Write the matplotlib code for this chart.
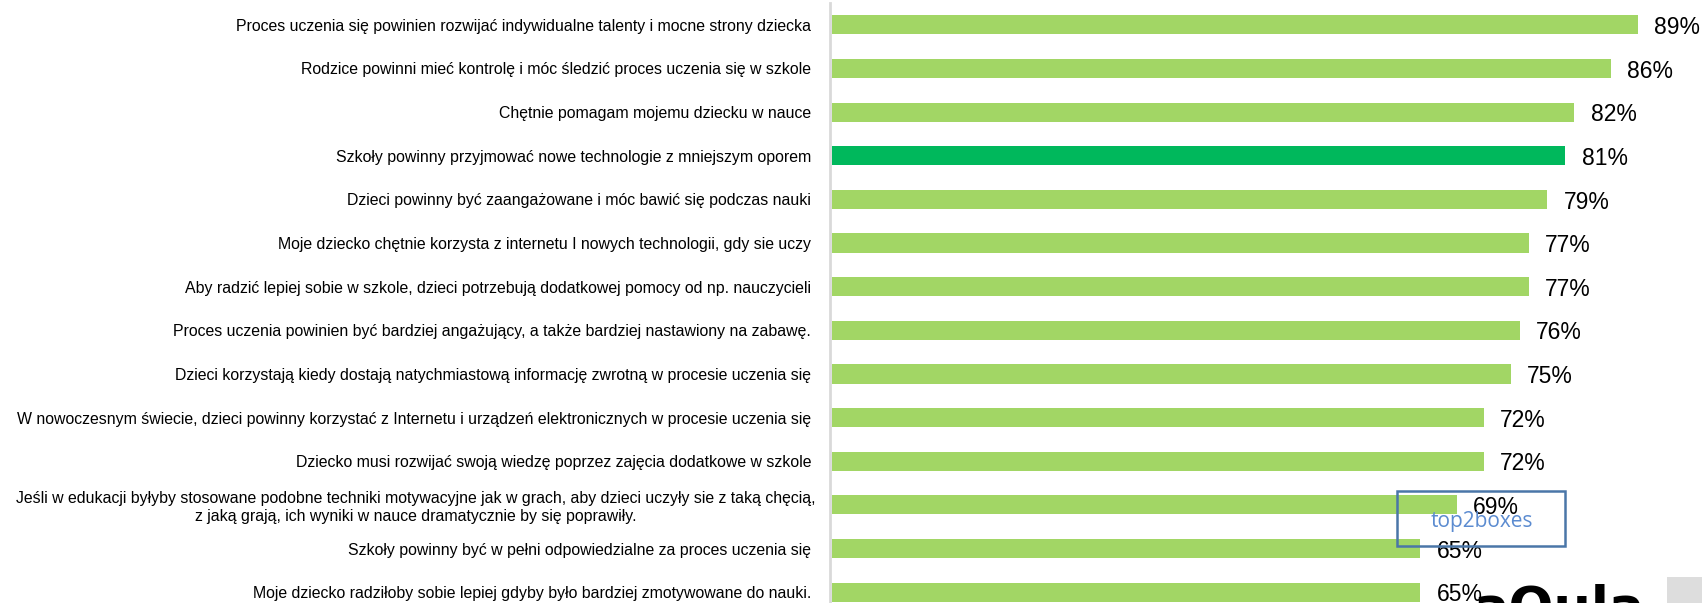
import matplotlib
matplotlib.use("Agg")
import matplotlib.pyplot as plt
from matplotlib.patches import Rectangle

labels = [
    "Proces uczenia się powinien rozwijać indywidualne talenty i mocne strony dziecka ",
    "Rodzice powinni mieć kontrolę i móc śledzić proces uczenia się w szkole ",
    "Chętnie pomagam mojemu dziecku w nauce ",
    "Szkoły powinny przyjmować nowe technologie z mniejszym oporem ",
    "Dzieci powinny być zaangażowane i móc bawić się podczas nauki ",
    "Moje dziecko chętnie korzysta z internetu I nowych technologii, gdy sie uczy ",
    "Aby radzić lepiej sobie w szkole, dzieci potrzebują dodatkowej pomocy od np. nauczycieli ",
    "Proces uczenia powinien być bardziej angażujący, a także bardziej nastawiony na zabawę. ",
    "Dzieci korzystają kiedy dostają natychmiastową informację zwrotną w procesie uczenia się ",
    "W nowoczesnym świecie, dzieci powinny korzystać z Internetu i urządzeń elektronicznych w procesie uczenia się ",
    "Dziecko musi rozwijać swoją wiedzę poprzez zajęcia dodatkowe w szkole ",
    "Jeśli w edukacji byłyby stosowane podobne techniki motywacyjne jak w grach, aby dzieci uczyły sie z taką chęcią,\nz jaką grają, ich wyniki w nauce dramatycznie by się poprawiły.",
    "Szkoły powinny być w pełni odpowiedzialne za proces uczenia się ",
    "Moje dziecko radziłoby sobie lepiej gdyby było bardziej zmotywowane do nauki. ",
]
values = [89, 86, 82, 81, 79, 77, 77, 76, 75, 72, 72, 69, 65, 65]
highlight = 3

light_green = "#A2D665"
dark_green = "#00B85C"

W, H = 1702, 603
fig = plt.figure(figsize=(W / 100, H / 100), dpi=100)
plt.rcParams["font.family"] = ["Liberation Sans", "DejaVu Sans"]

# axes placed in pixel terms: left edge at the gray axis line, bottom runs past the figure
ax_left, ax_top, ax_bottom = 830, 3, 614
ax = fig.add_axes([ax_left / W, 1 - ax_bottom / H, (W - ax_left) / W, (ax_bottom - ax_top) / H])

colors = [dark_green if i == highlight else light_green for i in range(len(values))]
ypos = list(range(len(values)))
ax.barh(ypos, values, height=0.44, color=colors, left=0.2)
ax.set_ylim(len(values) - 0.5, -0.5)
ax.set_xlim(0, 96.3)

for y, v in zip(ypos, values):
    ax.text(v + 2.0, y + 0.06, f"{v}%", va="center", ha="left", fontsize=16.5, color="black")

ax.set_yticks(ypos)
ax.set_yticklabels(labels, fontsize=11.4, multialignment="center")
ax.tick_params(axis="y", length=0, pad=10.5)
ax.set_xticks([])
for s in ["top", "right", "bottom"]:
    ax.spines[s].set_visible(False)
ax.spines["left"].set_color("#D9D9D9")
ax.spines["left"].set_linewidth(2)

# "top2boxes" note box
fig.patches.append(Rectangle((1397 / W, 1 - 546 / H), 168 / W, 55 / H, transform=fig.transFigure,
                             fill=False, edgecolor="#4A76A8", linewidth=1.8))
fig.text(1482 / W, 1 - 521 / H, "top2boxes", ha="center", va="center", fontsize=15,
         color="#5B8BD0", family=["Open Sans", "DejaVu Sans"])

# partial logo and gray corner
fig.patches.append(Rectangle((1667 / W, 0), 40 / W, 26 / H, transform=fig.transFigure,
                             facecolor="#DDDDDD", edgecolor="none"))
fig.text(1474 / W, -22 / H, "aOula", ha="left", va="baseline", fontsize=38,
         fontweight="bold", color="black", family=["DejaVu Sans"])

fig.savefig("out.png", dpi=100)
